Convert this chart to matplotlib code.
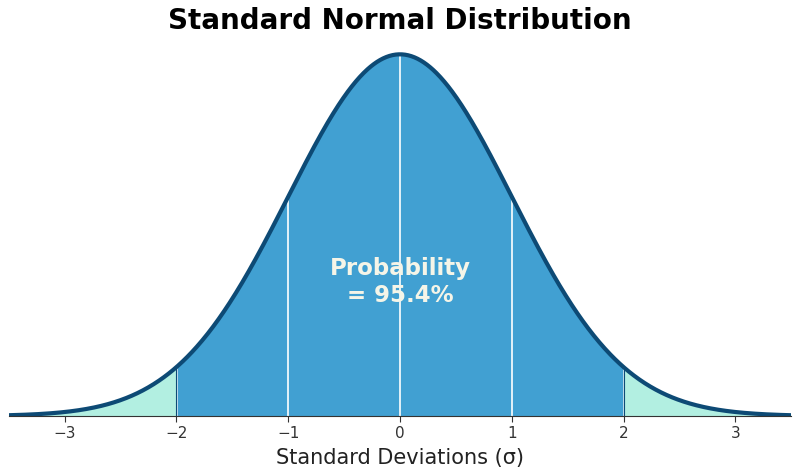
import numpy as np
import matplotlib
matplotlib.use("Agg")
import matplotlib.pyplot as plt

x_min, x_max = -3.5, 3.5
center_lo, center_hi = -2, 2
sigma_lines = [-1, 0, 1]
ticks = [-3, -2, -1, 0, 1, 2, 3]
prob_label = "Probability\n= 95.4%"

x = np.linspace(x_min, x_max, 1000)
pdf = np.exp(-x**2 / 2) / np.sqrt(2 * np.pi)

fig = plt.figure(figsize=(8, 4.76), dpi=100)
ax = fig.add_axes([0.011, 0.126, 0.978, 0.80])

blue = "#41a0d2"
teal = "#b2efe1"
dark = "#0d4a75"

mask_c = (x >= center_lo) & (x <= center_hi)
ax.fill_between(x, 0, pdf, where=x <= center_lo, color=teal, linewidth=0)
ax.fill_between(x, 0, pdf, where=x >= center_hi, color=teal, linewidth=0)
ax.fill_between(x[mask_c], 0, pdf[mask_c], color=blue, linewidth=0)

for s in sigma_lines:
    h = np.exp(-s**2 / 2) / np.sqrt(2 * np.pi)
    ax.vlines(s, 0, h, color="white", linewidth=1.2)
for s in [center_lo, center_hi]:
    h = np.exp(-s**2 / 2) / np.sqrt(2 * np.pi)
    ax.vlines(s, 0, h, color=dark, linewidth=0.8)

ax.plot(x, pdf, color=dark, linewidth=3.0, solid_capstyle="butt")

ax.text(0, 0.148, prob_label, ha="center", va="center", fontsize=16.5,
        fontweight="bold", color="#f5f5e8", linespacing=1.2)

ax.set_xlim(x_min, x_max)
ax.set_ylim(0, 0.42)
ax.set_xticks(ticks)
ax.set_xticklabels([f"\u2212{abs(t)}" if t < 0 else str(t) for t in ticks])
ax.tick_params(axis="x", labelsize=11, colors="#333333", length=4)
ax.set_yticks([])
for sp in ["left", "right", "top"]:
    ax.spines[sp].set_visible(False)
ax.spines["bottom"].set_color("#333333")
ax.set_xlabel("Standard Deviations (\u03c3)", fontsize=15, color="#222222", labelpad=5)
ax.set_title("Standard Normal Distribution", fontsize=20, fontweight="bold", pad=4)

fig.savefig("out.png", dpi=100)
